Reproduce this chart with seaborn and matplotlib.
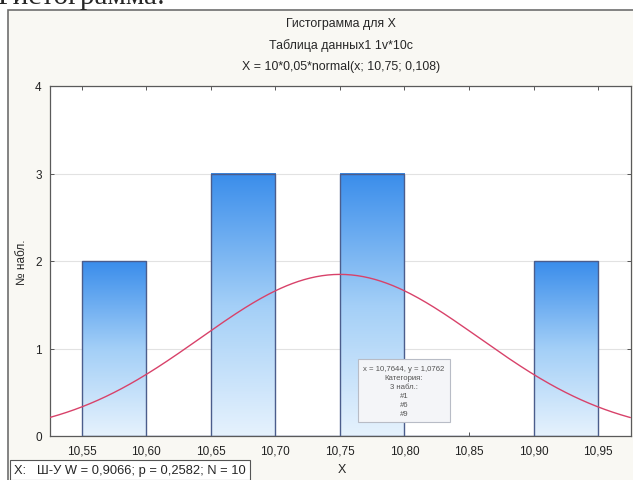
import numpy as np
import pandas as pd
import seaborn as sns
import matplotlib.pyplot as plt
from matplotlib.patches import Rectangle
from matplotlib.colors import LinearSegmentedColormap
from matplotlib.ticker import FuncFormatter

# Histogram data
bin_edges = [10.55, 10.60, 10.65, 10.70, 10.75, 10.80, 10.85, 10.90, 10.95]
counts = [2, 0, 3, 0, 3, 0, 0, 2]
x_ticks = [10.55, 10.60, 10.65, 10.70, 10.75, 10.80, 10.85, 10.90, 10.95]
y_ticks = [0, 1, 2, 3, 4]

# fitted normal from the title: X = 10*0,05*normal(x; 10,75; 0,108)
n_obs = 10
bin_width = 0.05
mean_x = 10.75
sd_x = 0.108

title_lines = ["Гистограмма для X", "Таблица данных1 1v*10c",
               "X = 10*0,05*normal(x; 10,75; 0,108)"]
stat_text = "X:   Ш-У W = 0,9066; p = 0,2582; N = 10"
tooltip = "x = 10,7644, y = 1,0762\nКатегория:\n3 набл.:\n#1\n#6\n#9"

sns.set_style("white")
plt.rcParams['font.family'] = ['Liberation Sans', 'DejaVu Sans']

fig = plt.figure(figsize=(6.33, 4.81), dpi=100)
fig.patch.set_facecolor("white")

# window frame
frame = Rectangle((8 / 633, -0.01), 1.0, 1 - 11 / 481 + 0.01, transform=fig.transFigure,
                  facecolor="#f9f8f3", edgecolor="#6e6e6e", lw=1.2, zorder=-10)
fig.patches.append(frame)

# cut off heading above the frame
fig.text(-0.004, 0.991, "Гистограмма:", family="Liberation Serif", fontsize=21,
         va="baseline", ha="left")

ax = fig.add_axes([50 / 633, 44 / 481, 581 / 633, 350 / 481])
ax.set_facecolor("white")

centers = [(a + b) / 2 for a, b in zip(bin_edges[:-1], bin_edges[1:])]
df = pd.DataFrame({"x": centers, "n": counts})
sns.histplot(data=df, x="x", weights="n", bins=bin_edges, ax=ax,
             facecolor="none", edgecolor="#4b5d8c", linewidth=1.0, zorder=3)

# gradient fill for each bar
grad = np.linspace(0, 1, 256).reshape(-1, 1)
cmap = LinearSegmentedColormap.from_list("bar", ["#e6f2fd", "#a3cff7", "#3a8deb"])
for p in ax.patches:
    h = p.get_height()
    if h <= 0:
        continue
    x0 = p.get_x()
    w = p.get_width()
    ax.imshow(grad, cmap=cmap, extent=(x0, x0 + w, 0, h), origin="lower",
              aspect="auto", zorder=2, interpolation="bilinear")

# normal curve
xs = np.linspace(10.52, 10.975, 300)
ys = n_obs * bin_width * np.exp(-0.5 * ((xs - mean_x) / sd_x) ** 2) / (sd_x * np.sqrt(2 * np.pi))
sns.lineplot(x=xs, y=ys, ax=ax, color="#d8426a", lw=1.0, zorder=4)

ax.set_xlim(10.5254, 10.9755)
ax.set_ylim(0, 4)
ax.set_xticks(x_ticks)
ax.set_yticks(y_ticks)
ax.xaxis.set_major_formatter(FuncFormatter(lambda v, pos: f"{v:.2f}".replace(".", ",")))
ax.yaxis.grid(True, color="#e2e2e2", lw=0.8)
ax.set_axisbelow(True)
ax.tick_params(direction="in", length=3, width=0.7, colors="#555555", labelcolor="#222222",
               labelsize=8.5, top=True, right=True, bottom=True, left=True, pad=6)
for s in ax.spines.values():
    s.set_color("#5a5a5a")
    s.set_linewidth(0.9)
ax.set_xlabel("")
ax.set_ylabel("№ набл.", fontsize=8.5, labelpad=5)

for i, t in enumerate(title_lines):
    fig.text(341 / 633, 1 - (24 + 21.5 * i) / 481, t, ha="center", va="center", fontsize=8.9)

fig.text(342 / 633, 1 - 470 / 481, "X", ha="center", va="center", fontsize=9)
fig.text(14 / 633, 1 - 471 / 481, stat_text, ha="left", va="center", fontsize=9.3,
         bbox=dict(boxstyle="square,pad=0.3", facecolor="white", edgecolor="#555555", lw=0.8))

ax.text(10.7995, 0.515, tooltip, ha="center", va="center", fontsize=5.6, color="#555555",
        linespacing=1.4, zorder=6,
        bbox=dict(boxstyle="square,pad=0.7", facecolor="#f4f5f8", edgecolor="#b8bcc6", lw=0.8))

fig.savefig("out.png", dpi=100)
